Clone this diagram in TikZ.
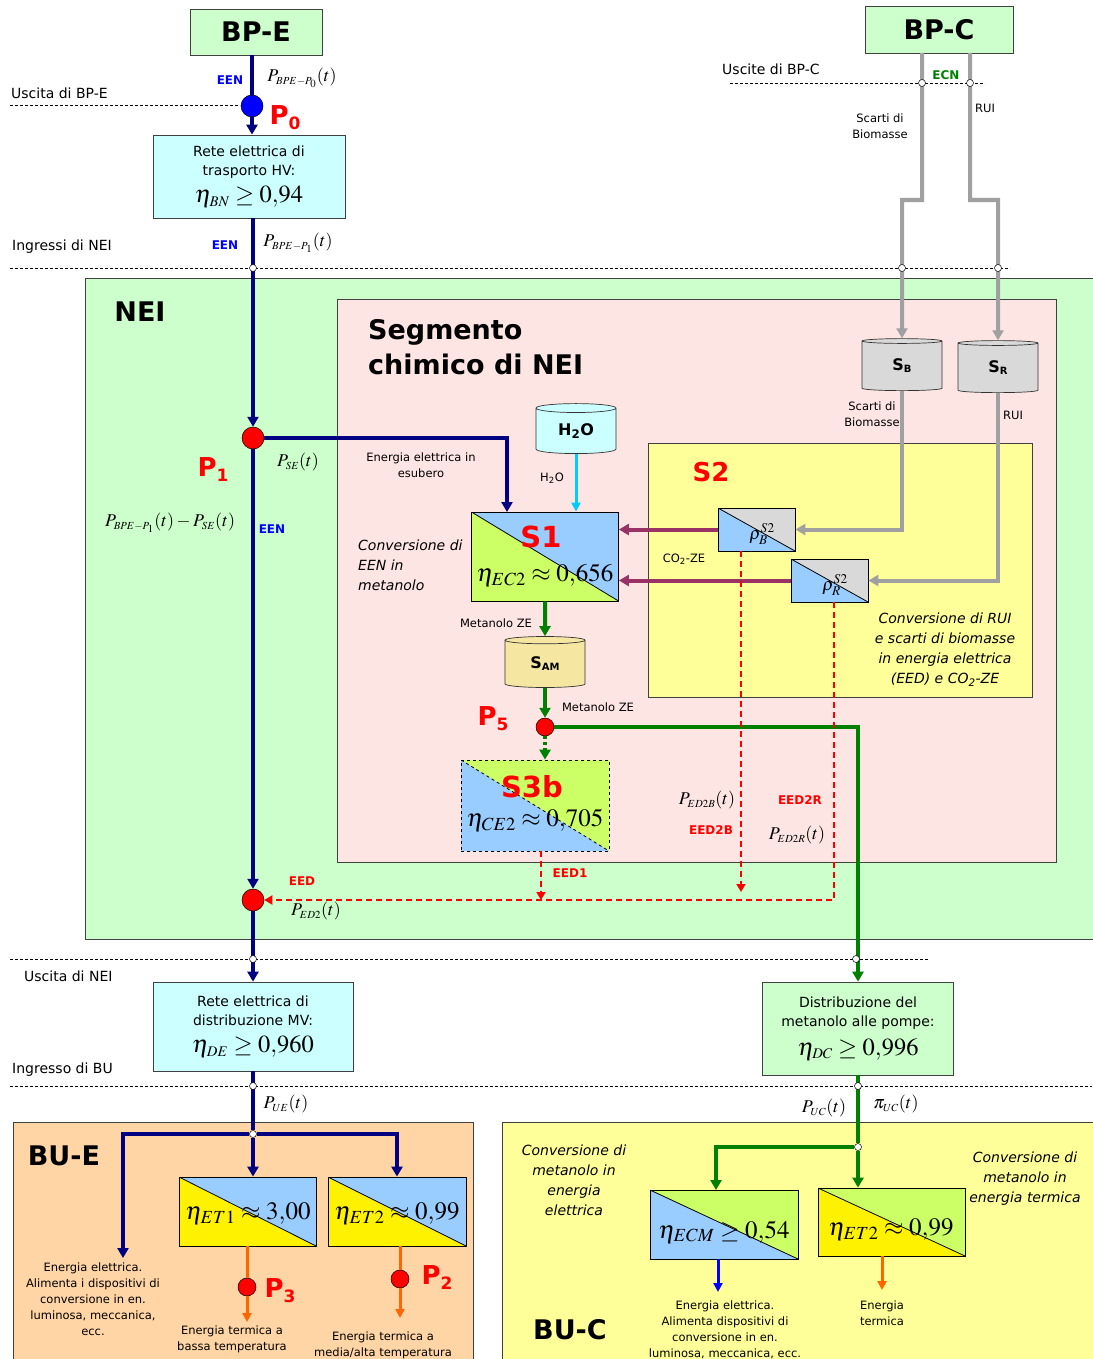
\documentclass[tikz,border=0pt]{standalone}
\usepackage{mathptmx}
\usepackage{fontspec}
\setmainfont{DejaVu Sans}
\usetikzlibrary{arrows.meta,shapes.geometric}

\definecolor{navy}{HTML}{000080}
\definecolor{eenblue}{HTML}{0000FF}
\definecolor{palegreen}{HTML}{CCFFCC}
\definecolor{palecyan}{HTML}{CCFFFF}
\definecolor{palepink}{HTML}{FDE5E3}
\definecolor{paleyellow}{HTML}{FFFF99}
\definecolor{peach}{HTML}{FFD5A6}
\definecolor{skyblue}{HTML}{99CCFF}
\definecolor{lime}{HTML}{CCFF66}
\definecolor{greyfill}{HTML}{D9D9D9}
\definecolor{greyline}{HTML}{A0A0A0}
\definecolor{plum}{HTML}{993366}
\definecolor{darkgreen}{HTML}{008000}
\definecolor{orangeline}{HTML}{FF6600}
\definecolor{cyanline}{HTML}{00CCFF}
\definecolor{sand}{HTML}{F5E7A1}

\newcommand{\ptlabel}[1]{P\raisebox{-5pt}{\fontsize{17}{17}\selectfont #1}}
\newcommand{\tanklabel}[1]{S\raisebox{-2pt}{\fontsize{10}{10}\selectfont #1}}
\newcommand{\etaline}[1]{{\fontsize{24.5}{24.5}\selectfont$#1$}}

\tikzset{
  zone/.style={draw=black!75, line width=0.7pt},
  netbox/.style={draw=black!75, line width=0.7pt, align=center, inner sep=0pt,
    font=\fontsize{14}{19}\selectfont},
  diag/.style={solid},
  conv/.style n args={2}{draw=black, line width=0.8pt, rectangle, inner sep=0pt,
    path picture={
      \fill[#1] (path picture bounding box.north west) -- (path picture bounding box.north east)
        -- (path picture bounding box.south east) -- cycle;
      \fill[#2] (path picture bounding box.north west) -- (path picture bounding box.south west)
        -- (path picture bounding box.south east) -- cycle;
      \draw[line width=0.8pt, diag] (path picture bounding box.north west)
        -- (path picture bounding box.south east);
    }},
  tank/.style={cylinder, shape border rotate=90, aspect=0.25, draw=black!80, line width=0.7pt,
    cylinder uses custom fill, cylinder body fill=#1, cylinder end fill=#1,
    minimum width=80pt, minimum height=52pt, inner sep=0pt,
    font=\bfseries\fontsize{16}{16}\selectfont},
  ppoint/.style={circle, draw=black, line width=0.5pt, fill=red, minimum size=22pt, inner sep=0pt},
  jn/.style={circle, draw=black, line width=0.5pt, fill=white, minimum size=7pt, inner sep=0pt},
  border/.style={densely dashed, line width=0.8pt},
  een/.style={draw=navy, line width=4pt},
  meth/.style={draw=darkgreen, line width=4pt},
  scarti/.style={draw=greyline, line width=4pt},
  co2/.style={draw=plum, line width=4pt},
  eed/.style={draw=red, line width=1.8pt, dash pattern=on 6pt off 4pt,
    >={Triangle[length=8pt,width=9pt]}},
  heat/.style={draw=orangeline, line width=3pt, >={Triangle[length=9pt,width=9pt]}},
  water/.style={draw=cyanline, line width=3pt, >={Triangle[length=9pt,width=9pt]}},
  lbl/.style={font=\fontsize{11.5}{16}\selectfont, align=center, inner sep=0pt},
  txt/.style={font=\fontsize{14}{19}\selectfont, align=center, inner sep=0pt},
  itxt/.style={font=\itshape\fontsize{14}{20}\selectfont, align=center, inner sep=0pt},
  tag/.style={font=\bfseries\fontsize{12}{12}\selectfont, inner sep=0pt},
  head/.style={font=\bfseries\fontsize{27}{35}\selectfont, align=left, inner sep=0pt},
  redtag/.style={text=red, font=\bfseries\fontsize{26}{26}\selectfont, inner sep=0pt},
  mlbl/.style={font=\fontsize{18}{18}\selectfont, inner sep=0pt},
  big/.style={font=\fontsize{25}{25}\selectfont, inner sep=0pt},
}

\begin{document}
\begin{tikzpicture}[x=1pt, y=-1pt, >={Triangle[length=10pt,width=11pt]}]
\useasboundingbox (0,0) rectangle (1092,1359);

% areas
\draw[zone, fill=palegreen] (85,278) rectangle (1100,939);
\draw[zone, fill=palepink] (337,299) rectangle (1056,862);
\draw[zone, fill=paleyellow] (648,443) rectangle (1032,697);
\draw[zone, fill=peach] (13,1122) rectangle (473,1370);
\draw[zone, fill=paleyellow] (502,1122) rectangle (1100,1370);
\node[head] (nei) at (140,312) {NEI};
\node[head, anchor=west] (seg) at (368,347) {Segmento\\chimico di NEI};
\node[redtag] (s2name) at (711,472) {S2};
\node[head] (bue) at (64,1156) {BU-E};
\node[head] (buc) at (570,1330) {BU-C};

% boundaries
\draw[border] (10,105) -- (240,105);
\draw[border] (730,83) -- (985,83);
\draw[border] (10,268) -- (1010,268);
\draw[border] (10,959) -- (928,959);
\draw[border] (10,1086) -- (1092,1086);
\node[txt, anchor=west] (outbpe) at (11,93) {Uscita di BP-E};
\node[txt, anchor=west] (outbpc) at (722,69) {Uscite di BP-C};
\node[txt, anchor=west] (innei) at (12,247) {Ingressi di NEI};
\node[txt, anchor=west] (outnei) at (24,976) {Uscita di NEI};
\node[txt, anchor=west] (inbu) at (12,1070) {Ingresso di BU};

% sources and networks
\node[netbox, fill=palegreen, minimum width=132pt, minimum height=46pt,
  font=\bfseries\fontsize{27}{27}\selectfont] (bpe) at (256,32) {BP-E};
\node[netbox, fill=palegreen, minimum width=148pt, minimum height=47pt,
  font=\bfseries\fontsize{27}{27}\selectfont] (bpc) at (939,29.5) {BP-C};
\node[netbox, fill=palecyan, minimum width=192pt, minimum height=83pt] (hv) at (249,176.5)
  {Rete elettrica di\\trasporto HV:\\[7pt]\etaline{\eta_{\scriptscriptstyle BN}\geq 0{,}94}};
\node[netbox, fill=palecyan, minimum width=200pt, minimum height=89pt] (mv) at (253,1026.5)
  {Rete elettrica di\\distribuzione MV:\\[8pt]\etaline{\eta_{\scriptscriptstyle DE}\geq 0{,}960}};
\node[netbox, fill=palegreen, minimum width=191pt, minimum height=93pt] (dist) at (858,1028.5)
  {Distribuzione del\\metanolo alle pompe:\\[8pt]\etaline{\eta_{\scriptscriptstyle DC}\geq 0{,}996}};

% nodes of NEI
\node[ppoint, fill=eenblue] (p0) at (252,106) {};
\node[ppoint] (p1) at (253,438) {};
\node[ppoint] (ped) at (253,900) {};
\node[ppoint, minimum size=18pt] (p5) at (545,727) {};
\node[redtag] (p0name) at (285,118) {\ptlabel{0}};
\node[redtag] (p1name) at (213,470) {\ptlabel{1}};
\node[redtag] (p5name) at (493,719) {\ptlabel{5}};

% storages
\node[tank=palecyan, minimum height=50pt] (h2o) at (576,431) {H\textsubscript{2}O};
\node[tank=greyfill] (sb) at (902,366) {\tanklabel{B}};
\node[tank=greyfill] (sr) at (998,368) {\tanklabel{R}};
\node[tank=sand, minimum height=51pt] (sam) at (545,664) {\tanklabel{AM}};

% conversion units
\node[conv={skyblue}{lime}, minimum width=147pt, minimum height=89pt] (s1) at (545,556.5) {};
\node[redtag, font=\bfseries\fontsize{29}{29}\selectfont] (s1name) at (541,537) {S1};
\node[big] (s1eta) at (545,576) {$\eta_{EC2}\approx 0{,}656$};
\node[conv={greyfill}{skyblue}, minimum width=77pt, minimum height=43pt] (rhob) at (756.5,529.5) {};
\node[font=\fontsize{18}{18}\selectfont, inner sep=0pt] (rhobl) at (762,534) {$\rho_{B}^{S2}$};
\node[conv={greyfill}{skyblue}, minimum width=77pt, minimum height=43pt] (rhor) at (829.5,580.5) {};
\node[font=\fontsize{18}{18}\selectfont, inner sep=0pt] (rhorl) at (835,585) {$\rho_{R}^{S2}$};
\node[conv={lime}{skyblue}, diag/.style={dashed}, dashed, minimum width=148pt, minimum height=91pt] (s3b) at (535,805.5) {};
\node[redtag, font=\bfseries\fontsize{29}{29}\selectfont] (s3bname) at (532,787) {S3b};
\node[big] (s3beta) at (535,821) {$\eta_{CE2}\approx 0{,}705$};

% users
\node[conv={skyblue}{yellow}, minimum width=137pt, minimum height=69pt] (et1) at (247.5,1211.5) {};
\node[big] (et1eta) at (248,1214) {$\eta_{ET1}\approx 3{,}00$};
\node[conv={skyblue}{yellow}, minimum width=138pt, minimum height=69pt] (et2) at (397,1211.5) {};
\node[big] (et2eta) at (397,1214) {$\eta_{ET2}\approx 0{,}99$};
\node[conv={lime}{skyblue}, minimum width=148pt, minimum height=69pt] (ecm) at (724,1224.5) {};
\node[big] (ecmeta) at (724,1232) {$\eta_{ECM}\geq 0{,}54$};
\node[conv={lime}{yellow}, minimum width=147pt, minimum height=68pt] (etc) at (891.5,1222) {};
\node[big] (etceta) at (891,1230) {$\eta_{ET2}\approx 0{,}99$};
\node[ppoint, minimum size=18pt] (p3) at (247,1287) {};
\node[ppoint, minimum size=18pt] (p2) at (400,1279) {};
\node[redtag] (p3name) at (280,1291) {\ptlabel{3}};
\node[redtag] (p2name) at (437,1278) {\ptlabel{2}};
\node[jn] (je) at (253,1134) {};
\node[jn] (jc) at (858,1147) {};
\coordinate (s1in) at (507,512);
\coordinate (bpcb) at (922,53);
\coordinate (bpcr) at (970,53);
\coordinate (eed2b) at (741,892);
\coordinate (eed2r) at (834,900);
\coordinate (eed1) at (541,900);
\coordinate (eleout) at (123,1258);
\coordinate (lowout) at (247,1322);
\coordinate (highout) at (400,1318);
\coordinate (ecmin) at (716,1190);
\coordinate (ecmout) at (718,1292);
\coordinate (etcout) at (882,1290);

% electric flow
\draw[een] (p0 |- bpe.south) -- (p0);
\draw[een,->] (p0) -- (p0 |- hv.north);
\draw[een,->] (p1 |- hv.south) -- (p1);
\draw[een,->] (p1) -| (s1in);
\draw[een,->] (p1) -- (ped);
\draw[een,->] (ped) -- (mv);
\draw[een] (mv) -- (je);
\draw[een,->] (je) -| (eleout);
\draw[een,->] (je) -- (je |- et1.north);
\draw[een,->] (je) -| (et2.north);
\draw[water,->] (h2o.south) -- (h2o.south |- s1.north);

% biomass and RUI
\draw[scarti,->] (bpcb) -- (922,200) -- (902,200) -- (sb.north);
\draw[scarti,->] (bpcr) -- (970,200) -- (998,200) -- (sr.north);
\draw[scarti,->] (sb.south) |- (rhob.east);
\draw[scarti,->] (sr.south) |- (rhor.east);
\draw[co2,->] (rhob.west) -- (rhob.west -| s1.east);
\draw[co2,->] (rhor.west) -- (rhor.west -| s1.east);

% methanol
\draw[meth,->] (s1.south) -- (sam.north);
\draw[meth,->] (sam.south) -- (p5);
\draw[meth,dashed,->] (p5) -- (p5 |- s3b.north);
\draw[meth,->] (p5) -| (dist.north);
\draw[meth] (dist) -- (jc);
\draw[meth,->] (jc) -| (ecmin);
\draw[meth,->] (jc) -- (jc |- etc.north);

% EED
\draw[eed,->] (rhor.south -| eed2r) -- (eed2r) -- (ped);
\draw[eed,->] (rhob.south -| eed2b) -- (eed2b);
\draw[eed,->] (s3b.south -| eed1) -- (eed1);

% heat and electricity to users
\draw[heat] (p3 |- et1.south) -- (p3);
\draw[heat,->] (p3) -- (lowout);
\draw[heat] (p2 |- et2.south) -- (p2);
\draw[heat,->] (p2) -- (highout);
\draw[eenblue, line width=3pt, >={Triangle[length=9pt,width=9pt]},->] (ecmout |- ecm.south) -- (ecmout);
\draw[heat,->] (etcout |- etc.south) -- (etcout);

% junctions on the boundaries
\node[jn] (b1) at (253,268) {};
\node[jn] (b2) at (902,268) {};
\node[jn] (b3) at (998,268) {};
\node[jn] (b4) at (922,83) {};
\node[jn] (b5) at (970,83) {};
\node[jn] (b6) at (253,959) {};
\node[jn] (b7) at (856,959) {};
\node[jn] (b8) at (253,1086) {};
\node[jn] (b9) at (858,1086) {};

% flow labels
\node[tag, text=eenblue] (een0) at (230,80) {EEN};
\node[mlbl] (pbpe0) at (302,78) {$P_{\scriptscriptstyle BPE-P_0}(t)$};
\node[tag, text=eenblue] (een1) at (225,245) {EEN};
\node[mlbl] (pbpe1) at (298,243) {$P_{\scriptscriptstyle BPE-P_1}(t)$};
\node[tag, text=darkgreen] (ecn) at (946,75) {ECN};
\node[lbl] (scarti1) at (880,126) {Scarti di\\Biomasse};
\node[lbl] (rui1) at (985,108) {RUI};
\node[lbl] (scarti2) at (872,414) {Scarti di\\Biomasse};
\node[lbl] (rui2) at (1013,415) {RUI};
\node[mlbl] (pse) at (298,462) {$P_{\scriptscriptstyle SE}(t)$};
\node[mlbl] (pdiff) at (170,523) {$P_{\scriptscriptstyle BPE-P_1}(t)-P_{\scriptscriptstyle SE}(t)$};
\node[tag, text=eenblue] (een2) at (272,529) {EEN};
\node[lbl] (esubero) at (421,465) {Energia elettrica in\\esubero};
\node[lbl] (h2ol) at (552,478) {H\textsubscript{2}O};
\node[itxt, anchor=west, align=left] (convs1) at (358,565) {Conversione di\\EEN in\\metanolo};
\node[lbl] (co2l) at (684,559) {CO\textsubscript{2}-ZE};
\node[itxt] (convs2) at (945,650) {Conversione di RUI\\e scarti di biomasse\\in energia elettrica\\(EED) e CO\textsubscript{2}-ZE};
\node[lbl] (metl1) at (496,623) {Metanolo ZE};
\node[lbl] (metl2) at (598,707) {Metanolo ZE};
\node[mlbl] (ped2b) at (707,800) {$P_{\scriptscriptstyle ED2B}(t)$};
\node[tag, text=red] (eed2bl) at (711,830) {EED2B};
\node[tag, text=red] (eed2rl) at (800,800) {EED2R};
\node[mlbl] (ped2r) at (797,835) {$P_{\scriptscriptstyle ED2R}(t)$};
\node[tag, text=red] (eed1l) at (570,873) {EED1};
\node[tag, text=red] (eedl) at (302,881) {EED};
\node[mlbl] (ped2) at (316,911) {$P_{\scriptscriptstyle ED2}(t)$};
\node[mlbl] (pue) at (286,1104) {$P_{\scriptscriptstyle UE}(t)$};
\node[mlbl] (puc) at (824,1108) {$P_{\scriptscriptstyle UC}(t)$};
\node[mlbl] (piuc) at (896,1104) {$\pi_{\scriptscriptstyle UC}(t)$};

% end uses
\node[lbl] (eleuse) at (93,1299) {Energia elettrica.\\Alimenta i dispositivi di\\conversione in en.\\luminosa, meccanica,\\ecc.};
\node[lbl] (lowuse) at (232,1339) {Energia termica a\\bassa temperatura};
\node[lbl] (highuse) at (383,1345) {Energia termica a\\media/alta temperatura};
\node[itxt] (convecm) at (574,1180) {Conversione di\\metanolo in\\energia\\elettrica};
\node[itxt] (convetc) at (1025,1179) {Conversione di\\metanolo in\\energia termica};
\node[lbl] (ecmuse) at (725,1330) {Energia elettrica.\\Alimenta dispositivi di\\conversione in en.\\luminosa, meccanica, ecc.};
\node[lbl] (etcuse) at (882,1313) {Energia\\termica};
\end{tikzpicture}
\end{document}
